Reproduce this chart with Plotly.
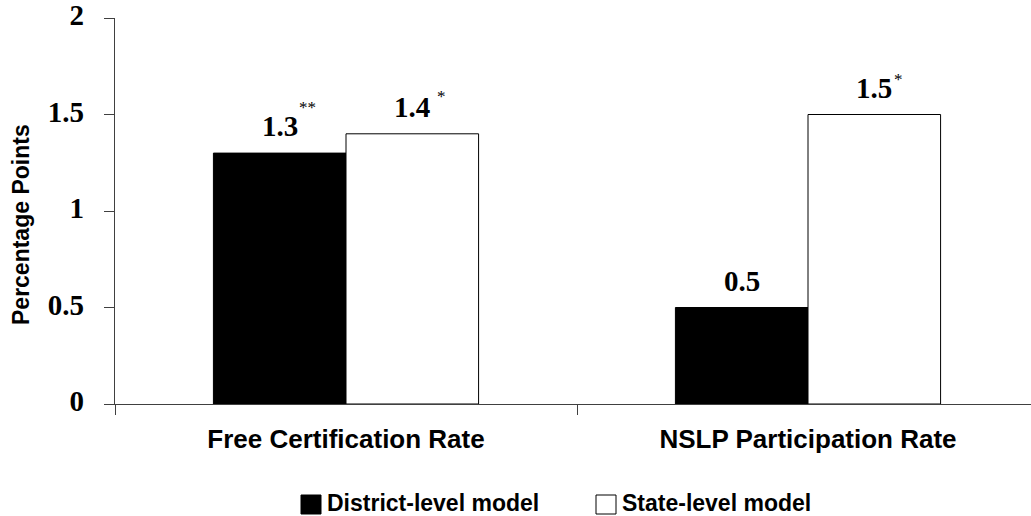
import plotly.graph_objects as go

categories = ["Free Certification Rate", "NSLP Participation Rate"]
series_names = ["District-level model", "State-level model"]
district_values = [1.3, 0.5]
state_values = [1.4, 1.5]
district_stars = ["**", ""]
state_stars = ["*", "*"]
y_ticks = [0, 0.5, 1, 1.5, 2]
y_ticklabels = ["0", "0.5", "1", "1.5", "2"]

# ---- layout / style (pixel geometry of the page) ----
FIG_W, FIG_H = 1031, 516
M_L, M_R, M_T, M_B = 115, 0, 18, 112
PLOT_W = FIG_W - M_L - M_R
PLOT_H = FIG_H - M_T - M_B
CAT_PX = 462                        # pixel width of one category
serif = "Liberation Serif"
sans = "Liberation Sans"
AXIS_COLOR = "#404040"


def px_x(fx):
    return (fx - M_L) / PLOT_W


def px_y(fy):
    return (FIG_H - M_B - fy) / PLOT_H


fig = go.Figure()
fig.add_trace(go.Bar(
    x=categories, y=district_values, name=series_names[0], showlegend=False,
    marker=dict(color="black", line=dict(color="black", width=1)),
    offsetgroup="a",
))
fig.add_trace(go.Bar(
    x=categories, y=state_values, name=series_names[1], showlegend=False,
    marker=dict(color="white", line=dict(color="black", width=1)),
    offsetgroup="b",
))

# star placement style per trace (xshift from bar centre, yshift above bar top)
star_style = {
    (0, 0): (17, 34),
    (1, 0): (23, 26),
    (1, 1): (18, 24),
}
bar_half = 0.287 / 2
annotations = []
for ti, (vals, stars) in enumerate([(district_values, district_stars), (state_values, state_stars)]):
    sign = -1 if ti == 0 else 1
    for ci, (v, s) in enumerate(zip(vals, stars)):
        bx = ci + sign * bar_half
        annotations.append(dict(
            x=bx, y=v, xref="x", yref="y", text=f"<b>{v:.1f}</b>",
            showarrow=False, yanchor="bottom", yshift=9,
            font=dict(family=serif, size=29, color="black"),
        ))
        if s:
            xs, ys = star_style[(ti, ci)]
            annotations.append(dict(
                x=bx, y=v, xref="x", yref="y", text=s,
                showarrow=False, yanchor="bottom", xanchor="left",
                xshift=xs, yshift=ys,
                font=dict(family=serif, size=17, color="black"),
            ))

# y-axis title
annotations.append(dict(
    x=px_x(21), y=px_y(225), xref="paper", yref="paper",
    text="<b>Percentage Points</b>", textangle=-90, showarrow=False,
    xanchor="center", yanchor="middle",
    font=dict(family=sans, size=23, color="black"),
))

# manual legend
shapes = []
legend_items = [(301, "black"), (596, "white")]
for (lx, col), name in zip(legend_items, series_names):
    shapes.append(dict(
        type="rect", xref="paper", yref="paper",
        x0=px_x(lx), x1=px_x(lx + 20), y0=px_y(514), y1=px_y(495),
        fillcolor=col, line=dict(color="black", width=1),
    ))
    annotations.append(dict(
        x=px_x(lx + 24), y=px_y(503), xref="paper", yref="paper",
        text=f"<b>{name}</b>", showarrow=False, xanchor="left", yanchor="middle",
        font=dict(family=sans, size=23, color="black"),
    ))

fig.update_layout(
    width=FIG_W, height=FIG_H,
    margin=dict(l=M_L, r=M_R, t=M_T, b=M_B, pad=0, autoexpand=False),
    paper_bgcolor="white", plot_bgcolor="white",
    barmode="group", bargap=0.426, bargroupgap=0,
    showlegend=False,
    annotations=annotations,
    shapes=shapes,
    xaxis=dict(
        type="category", automargin=False,
        range=[-0.5, -0.5 + PLOT_W / CAT_PX], showgrid=False, zeroline=False,
        showline=True, linecolor=AXIS_COLOR, linewidth=1.3,
        tickson="boundaries", ticks="outside", ticklen=10, tickcolor=AXIS_COLOR, tickwidth=1,
        ticktext=[f"<b>{c}</b>" for c in categories], tickvals=categories,
        tickfont=dict(family=sans, size=26, color="black"),
        ticklabelstandoff=12, ticklabeloverflow="allow",
    ),
    yaxis=dict(
        automargin=False,
        range=[0, 2], showgrid=False, zeroline=False,
        showline=True, linecolor=AXIS_COLOR, linewidth=1.3,
        tickvals=y_ticks, ticktext=[f"<b>{t}</b>" for t in y_ticklabels],
        ticks="outside", ticklen=10, tickcolor=AXIS_COLOR, tickwidth=1,
        tickfont=dict(family=serif, size=29, color="black"),
        ticklabelstandoff=14, ticklabelshift=-3, ticklabeloverflow="allow",
    ),
)

fig.write_html(
    "out.html",
    config={"displayModeBar": False},
    post_script="document.body.style.margin='0';",
)
